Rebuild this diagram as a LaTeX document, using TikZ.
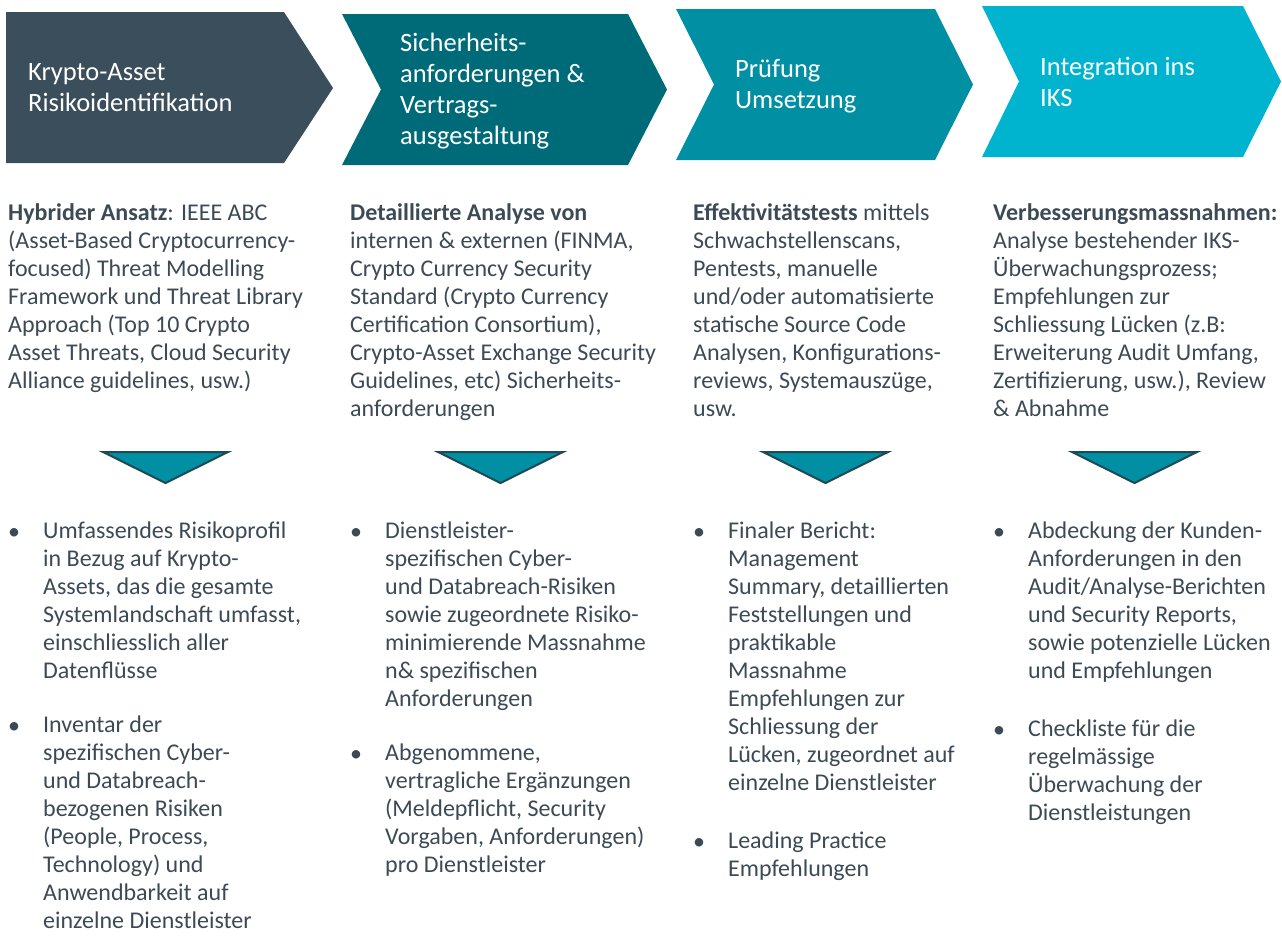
\documentclass[tikz,border=0pt]{standalone}
\usepackage{fontspec}
\setmainfont{Carlito}
\usetikzlibrary{positioning}
\definecolor{slate}{HTML}{3B4E5B}
\definecolor{petrol}{HTML}{006B78}
\definecolor{teal}{HTML}{008FA3}
\definecolor{cyan}{HTML}{00B3CF}
\definecolor{ink}{HTML}{3C4A55}
\definecolor{rim}{HTML}{1D4A55}
\tikzstyle{head} = [anchor=west, inner sep=0pt, align=left, text=white, font=\fontsize{26.5}{31}\selectfont, execute at begin node=\strut, execute at end node=\strut]
\tikzstyle{body} = [anchor=north west, inner sep=0pt, align=left, text=ink, font=\fontsize{24}{28}\selectfont, execute at begin node=\strut, execute at end node=\strut]
\tikzstyle{dot} = [body]
\tikzstyle{marker} = [fill=teal, draw=rim, line width=2pt, line join=miter]
\newcommand{\blt}{\raisebox{2pt}{•}}

\begin{document}
\begin{tikzpicture}[x=1pt, y=-1pt]
\useasboundingbox (0,0) rectangle (1282,935);

% Chevrons
\fill[slate] (6,12) -- (284,12) -- (333,88) -- (284,163) -- (6,163) -- cycle;
\fill[petrol] (342,14) -- (628,14) -- (667,89.5) -- (628,165) -- (342,165) -- (381,89.5) -- cycle;
\fill[teal] (676,9) -- (935,9) -- (973,84.5) -- (935,160) -- (676,160) -- (714,84.5) -- cycle;
\fill[cyan] (982,6) -- (1243,6) -- (1281,81.5) -- (1243,157) -- (982,157) -- (1019,81.5) -- cycle;

\node (H1) [head] at (28,92) {Krypto-Asset\\Risikoidentifikation};
\node (H2) [head] at (400,93) {Sicherheits-\\anforderungen \&\\Vertrags-\\ausgestaltung};
\node (H3) [head] at (735,88.5) {Prüfung\\Umsetzung};
\node (H4) [head] at (1040,86) {Integration ins\\IKS};

% Descriptions
\node (D1) [body] at (8,203) {\textbf{Hybrider Ansatz}: IEEE ABC\\(Asset-Based Cryptocurrency-\\focused) Threat Modelling\\Framework und Threat Library\\Approach (Top 10 Crypto\\Asset Threats, Cloud Security\\Alliance guidelines, usw.)};
\node (D2) [body] at (350,203) {\textbf{Detaillierte Analyse von}\\internen \& externen (FINMA,\\Crypto Currency Security\\Standard (Crypto Currency\\Certification Consortium),\\Crypto-Asset Exchange Security\\Guidelines, etc) Sicherheits-\\anforderungen};
\node (D3) [body] at (693,203) {\textbf{Effektivitätstests} mittels\\Schwachstellenscans,\\Pentests, manuelle\\und/oder automatisierte\\statische Source Code\\Analysen, Konfigurations-\\reviews, Systemauszüge,\\usw.};
\node (D4) [body] at (993,203) {\textbf{Verbesserungsmassnahmen:}\\Analyse bestehender IKS-\\Überwachungsprozess;\\Empfehlungen zur\\Schliessung Lücken (z.B:\\Erweiterung Audit Umfang,\\Zertifizierung, usw.), Review\\\& Abnahme};

% Down markers
\draw[marker] (103,452) -- (228,452) -- (165.5,483) -- cycle;
\draw[marker] (438,452) -- (563,452) -- (500.5,483) -- cycle;
\draw[marker] (763,452) -- (888,452) -- (825.5,483) -- cycle;
\draw[marker] (1072,452) -- (1197,452) -- (1134.5,483) -- cycle;

% Results
\node (R1a) [body] at (43,522) {Umfassendes Risikoprofil\\in Bezug auf Krypto-\\Assets, das die gesamte\\Systemlandschaft umfasst,\\einschliesslich aller\\Datenflüsse};
\node (R1b) [body, below=28pt of R1a.south west, anchor=north west] {Inventar der\\spezifischen Cyber-\\und Databreach-\\bezogenen Risiken\\(People, Process,\\Technology) und\\Anwendbarkeit auf\\einzelne Dienstleister};

\node (R2a) [body] at (385,522) {Dienstleister-\\spezifischen Cyber-\\und Databreach-Risiken\\sowie zugeordnete Risiko-\\minimierende Massnahme\\n\& spezifischen\\Anforderungen};
\node (R2b) [body, below=28pt of R2a.south west, anchor=north west] {Abgenommene,\\vertragliche Ergänzungen\\(Meldepflicht, Security\\Vorgaben, Anforderungen)\\pro Dienstleister};

\node (R3a) [body] at (728,522) {Finaler Bericht:\\Management\\Summary, detaillierten\\Feststellungen und\\praktikable\\Massnahme\\Empfehlungen zur\\Schliessung der\\Lücken, zugeordnet auf\\einzelne Dienstleister};
\node (R3b) [body, below=32pt of R3a.south west, anchor=north west] {Leading Practice\\Empfehlungen};

\node (R4a) [body] at (1028,522) {Abdeckung der Kunden-\\Anforderungen in den\\Audit/Analyse-Berichten\\und Security Reports,\\sowie potenzielle Lücken\\und Empfehlungen};
\node (R4b) [body, below=32pt of R4a.south west, anchor=north west] {Checkliste für die\\regelmässige\\Überwachung der\\Dienstleistungen};

% Bullets
\node (B1a) [dot] at ([xshift=-35pt]R1a.north west) {\blt};
\node (B1b) [dot] at ([xshift=-35pt]R1b.north west) {\blt};
\node (B2a) [dot] at ([xshift=-35pt]R2a.north west) {\blt};
\node (B2b) [dot] at ([xshift=-35pt]R2b.north west) {\blt};
\node (B3a) [dot] at ([xshift=-35pt]R3a.north west) {\blt};
\node (B3b) [dot] at ([xshift=-35pt]R3b.north west) {\blt};
\node (B4a) [dot] at ([xshift=-35pt]R4a.north west) {\blt};
\node (B4b) [dot] at ([xshift=-35pt]R4b.north west) {\blt};

\end{tikzpicture}
\end{document}
